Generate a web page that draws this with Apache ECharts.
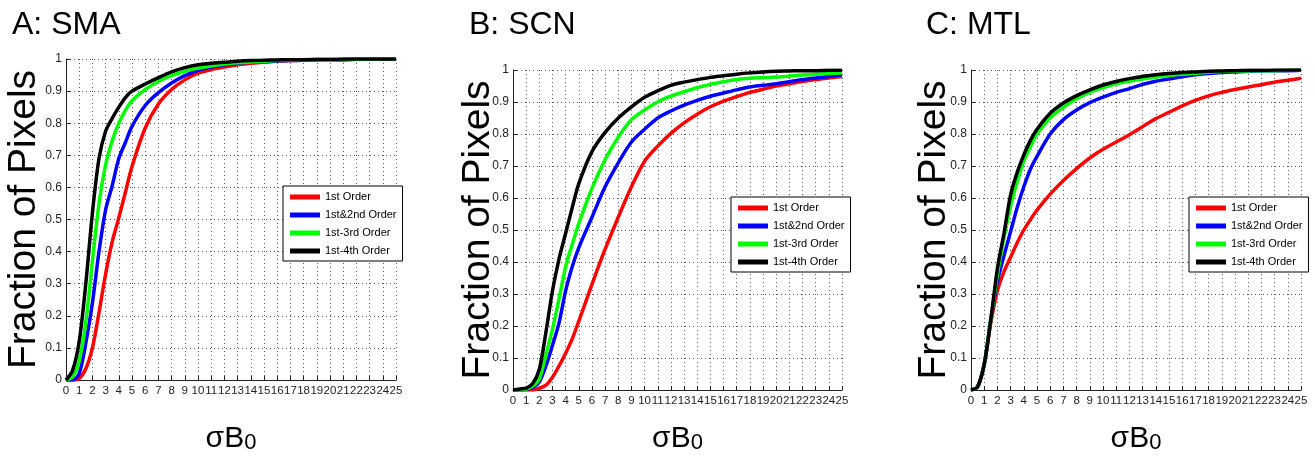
<!DOCTYPE html>
<html><head><meta charset="utf-8">
<script src="https://cdn.jsdelivr.net/npm/echarts@6/dist/echarts.min.js"></script>
<style>html,body{margin:0;padding:0;background:#fff}#c{width:1315px;height:459px}</style>
</head><body><div id="c"></div>
<script>
// sample positions along sigma*B0
const SIGMA = [0,0.5,1,1.5,2,2.5,3,3.5,4,4.5,5,6,7,8,9,10,11,12,13,14,15,16,17,18,19,20,21,22,23,24,25];

const SERIES_NAMES = ['1st Order','1st&2nd Order','1st-3rd Order','1st-4th Order'];
const PANEL_TITLES = ['A: SMA','B: SCN','C: MTL'];

// Panel A: SMA
const A_first  = [0,0,0.005,0.035,0.10,0.21,0.33,0.43,0.505,0.585,0.665,0.785,0.86,0.905,0.935,0.956,0.967,0.975,0.982,0.987,0.99,0.993,0.995,0.996,0.997,0.998,0.998,0.999,0.999,0.999,0.999];
const A_second = [0,0,0.02,0.115,0.24,0.40,0.53,0.605,0.69,0.74,0.79,0.855,0.895,0.925,0.948,0.965,0.975,0.982,0.987,0.99,0.992,0.994,0.995,0.996,0.997,0.998,0.998,0.999,0.999,0.999,1];
const A_third  = [0,0.01,0.06,0.18,0.37,0.55,0.67,0.745,0.80,0.84,0.87,0.905,0.93,0.948,0.962,0.971,0.978,0.984,0.988,0.991,0.993,0.995,0.996,0.997,0.998,0.998,0.999,0.999,1,1,1];
const A_fourth = [0,0.03,0.12,0.30,0.52,0.69,0.775,0.815,0.85,0.88,0.90,0.922,0.942,0.96,0.973,0.982,0.987,0.99,0.993,0.995,0.996,0.997,0.998,0.998,0.999,0.999,1,1,1,1,1];

// Panel B: SCN
const B_first  = [0,0,0,0,0.005,0.015,0.04,0.075,0.115,0.16,0.215,0.33,0.44,0.54,0.635,0.715,0.762,0.802,0.835,0.862,0.885,0.903,0.917,0.93,0.94,0.95,0.957,0.964,0.97,0.975,0.98];
const B_second = [0,0,0.002,0.008,0.025,0.075,0.14,0.21,0.31,0.385,0.445,0.54,0.635,0.71,0.775,0.815,0.85,0.872,0.89,0.905,0.918,0.928,0.938,0.947,0.952,0.957,0.963,0.97,0.975,0.98,0.985];
const B_third  = [0,0,0.003,0.012,0.035,0.11,0.19,0.285,0.385,0.455,0.52,0.63,0.72,0.79,0.845,0.875,0.9,0.918,0.932,0.945,0.955,0.963,0.97,0.974,0.976,0.978,0.981,0.984,0.987,0.989,0.991];
const B_fourth = [0,0.003,0.006,0.02,0.065,0.18,0.31,0.41,0.49,0.57,0.645,0.745,0.805,0.85,0.885,0.915,0.935,0.952,0.962,0.97,0.977,0.982,0.987,0.991,0.994,0.996,0.997,0.998,0.998,0.999,0.999];

// Panel C: MTL
const C_first  = [0,0.01,0.08,0.21,0.31,0.37,0.415,0.46,0.50,0.532,0.562,0.612,0.655,0.692,0.725,0.752,0.775,0.798,0.823,0.848,0.868,0.888,0.905,0.919,0.93,0.939,0.947,0.954,0.962,0.968,0.974];
const C_second = [0,0.01,0.08,0.22,0.34,0.42,0.495,0.57,0.635,0.69,0.73,0.80,0.845,0.875,0.898,0.915,0.93,0.942,0.955,0.965,0.972,0.979,0.985,0.989,0.992,0.994,0.996,0.997,0.998,0.998,0.999];
const C_third  = [0,0.01,0.08,0.22,0.36,0.475,0.575,0.65,0.715,0.76,0.80,0.85,0.883,0.91,0.93,0.945,0.957,0.965,0.972,0.978,0.983,0.987,0.99,0.993,0.995,0.996,0.997,0.998,0.998,0.999,0.999];
const C_fourth = [0,0.01,0.08,0.22,0.38,0.49,0.61,0.68,0.735,0.78,0.815,0.865,0.897,0.92,0.938,0.953,0.964,0.973,0.98,0.985,0.989,0.992,0.994,0.996,0.997,0.998,0.999,0.999,1,1,1];

const PANELS = [
  [A_first, A_second, A_third, A_fourth],
  [B_first, B_second, B_third, B_fourth],
  [C_first, C_second, C_third, C_fourth]
];
const COLORS = ['#ff0000','#0000ff','#00ff00','#000000'];

const GRIDS = [
  {left:66, top:59, width:330, height:329},
  {left:513, top:70, width:329, height:328},
  {left:971, top:70, width:330, height:329}
];
const TITLE_POS = [{left:12, top:9},{left:469, top:9},{left:926, top:9}];
const LEGEND_POS = [{left:283, top:186},{left:731, top:197},{left:1189, top:197}];
const YNAME_GAP = [22, 15, 17];
const XNAME_GAP = [44, 34, 34];

const chart = echarts.init(document.getElementById('c'), null, {renderer:'canvas'});
const tickFont = '"Liberation Sans Narrow","Liberation Sans",Arial,sans-serif';
const bigFont = '"Liberation Sans",Arial,Helvetica,sans-serif';

const option = {
  animation:false,
  backgroundColor:'#fff',
  title: PANEL_TITLES.map((t,i)=>({
    text:t, left:TITLE_POS[i].left, top:TITLE_POS[i].top, padding:0,
    textStyle:{fontFamily:bigFont, fontSize:32, fontWeight:'normal', color:'#000'}
  })),
  legend: LEGEND_POS.map((p,i)=>({
    data:SERIES_NAMES, orient:'vertical', left:p.left, top:p.top,
    icon:'rect', itemWidth:30, itemHeight:5, itemGap:4,
    padding:[4,6,3,7], borderColor:'#000', borderWidth:1, backgroundColor:'#fff',
    selectedMode:false,
    textStyle:{fontFamily:tickFont, fontSize:11, color:'#000', lineHeight:14}
  })),
  grid: GRIDS.map(g=>Object.assign({containLabel:false}, g)),
  xAxis: GRIDS.map((g,i)=>({
    type:'value', gridIndex:i, min:0, max:25, interval:1,
    name:'{s|σB}{z|0}', nameLocation:'middle', nameGap:XNAME_GAP[i], nameMoveOverlap:false,
    nameTextStyle:{rich:{
      s:{fontFamily:bigFont, fontSize:30, color:'#000', lineHeight:30, verticalAlign:'bottom'},
      z:{fontFamily:bigFont, fontSize:22, color:'#000', lineHeight:28, verticalAlign:'bottom'}
    }},
    axisLine:{show:true, onZero:false, lineStyle:{color:'#222', width:1}},
    axisTick:{show:true, inside:true, length:4, lineStyle:{color:'#222'}},
    axisLabel:{show:true, interval:0, hideOverlap:false, showMinLabel:true, showMaxLabel:true,
      margin:5, fontFamily:tickFont, fontSize:11.5, color:'#222'},
    splitLine:{show:true, lineStyle:{type:[1,3], color:'#555', width:1}}
  })),
  yAxis: GRIDS.map((g,i)=>({
    type:'value', gridIndex:i, min:0, max:1, interval:0.1,
    name:'Fraction of Pixels', nameLocation:'middle', nameRotate:90, nameGap:YNAME_GAP[i], nameMoveOverlap:false,
    nameTextStyle:{fontFamily:bigFont, fontSize:39, color:'#000'},
    axisLine:{show:true, onZero:false, lineStyle:{color:'#222', width:1}},
    axisTick:{show:true, inside:true, length:4, lineStyle:{color:'#222'}},
    axisLabel:{show:true, margin:4, showMinLabel:true, showMaxLabel:true, fontFamily:tickFont, fontSize:12, color:'#222',
      formatter:v=>String(Math.round(v*10)/10)},
    splitLine:{show:true, lineStyle:{type:[1,3], color:'#555', width:1}}
  })),
  series: []
};

PANELS.forEach((panel,pi)=>{
  panel.forEach((vals,si)=>{
    option.series.push({
      type:'line', name:SERIES_NAMES[si], xAxisIndex:pi, yAxisIndex:pi,
      data: SIGMA.map((x,k)=>[x, vals[k]]),
      showSymbol:false, symbol:'none', smooth:0.3,
      lineStyle:{color:COLORS[si], width:3.5, join:'round'}, itemStyle:{color:COLORS[si]},
      z: 2+si
    });
  });
});

chart.setOption(option);
</script>
</body></html>
